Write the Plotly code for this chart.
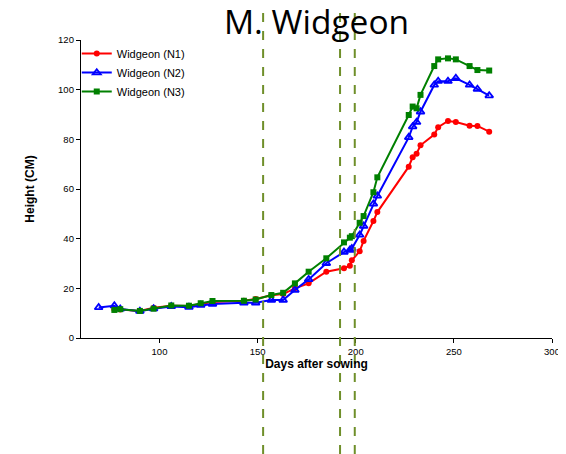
import plotly.graph_objects as go

days = [69, 77, 80, 90, 97, 106, 115, 121, 127, 143, 149, 157, 163, 169, 176, 185, 194, 197, 198, 202,
        204, 209, 211, 227, 229, 231, 233, 240, 242, 247, 251, 258, 262, 268]
n1 = [None, 11.5, 11.5, 10.9, 12.2, 13.0, 12.9, 13.7, 14.5, 15.0, 15.7, 17.2, 17.7, 20.0, 22.0, 26.7, 28.1, 29.1, 31.3, 34.9,
      39.1, 47.1, 50.7, 69.0, 72.8, 74.2, 77.6, 81.9, 84.9, 87.4, 87.0, 85.5, 85.4, 83.1]
n2 = [12.3, 13.0, 11.7, 10.8, 11.8, 12.7, 12.4, 13.2, 13.7, 14.2, 14.2, 15.3, 15.3, 19.3, 23.6, 30.1, 34.6, 35.4, 36.0, 41.5,
      45.1, 54.0, 57.2, 80.8, 85.1, 86.9, 91.1, 101.9, 103.4, 103.4, 104.6, 101.9, 100.2, 97.6]
n3 = [None, 11.3, 11.6, 10.9, 11.8, 13.1, 13.0, 14.0, 14.9, 15.0, 15.5, 17.3, 18.2, 22.0, 26.7, 32.1, 38.5, 40.4, 41.0, 46.4,
      49.1, 58.7, 64.7, 89.8, 93.2, 92.5, 97.9, 109.5, 112.2, 112.6, 112.2, 109.5, 107.9, 107.7]
event_days = [152.8, 192.0, 199.5]
x_range = [60, 300]
y_range = [0, 120]

series = [
    ("Widgeon (N1)", n1, "#ff0000", dict(symbol="circle", size=6)),
    ("Widgeon (N2)", n2, "#0000ff", dict(symbol="triangle-up-open", size=7, line=dict(width=1.8))),
    ("Widgeon (N3)", n3, "#008000", dict(symbol="square", size=6)),
]

fig = go.Figure()
for name, vals, col, mk in series:
    fig.add_trace(go.Scatter(x=days, y=vals, name=name, mode="lines+markers",
                             line=dict(color=col, width=2), marker=dict(color=col, **mk)))

# vertical event lines spanning the whole figure height (paper coords derived from the x range)
for d in event_days:
    xp = (d - x_range[0]) / (x_range[1] - x_range[0])
    fig.add_shape(type="line", xref="paper", yref="paper", x0=xp, x1=xp, y0=-0.45, y1=1.2,
                  line=dict(color="#6f8f2a", width=2, dash="dash"), layer="above")

# the page body adds an 8px margin, so the figure is 8px smaller than the window
fig.update_layout(
    width=558, height=446,
    margin=dict(l=73, r=14, t=32, b=116, autoexpand=False),
    plot_bgcolor="white", paper_bgcolor="white",
    font=dict(family="Liberation Sans, Arial", color="black"),
    title=dict(text="M. Widgeon", x=0.5, xref="paper", xanchor="center", y=0.969, yanchor="middle",
               automargin=False, font=dict(family="Open Sans", size=33.5, color="black")),
    xaxis=dict(range=x_range, tick0=0, dtick=50, showgrid=False, zeroline=False, automargin=False,
               showline=True, linecolor="black", linewidth=1.3, ticks="outside", ticklen=4,
               tickcolor="black", tickfont=dict(size=9.5), ticklabeloverflow="allow",
               title=dict(text="<b>Days after sowing</b>", font=dict(size=12), standoff=4)),
    yaxis=dict(range=y_range, dtick=20, showgrid=False, zeroline=False, automargin=False,
               showline=True, linecolor="black", linewidth=1.3, ticks="outside", ticklen=4,
               tickcolor="black", tickfont=dict(size=9.5),
               title=dict(text="<b>Height (CM)</b>", font=dict(size=12), standoff=20)),
    legend=dict(x=-0.009, y=1.003, xanchor="left", yanchor="top", bgcolor="rgba(0,0,0,0)",
                font=dict(size=11), itemwidth=30, tracegroupgap=0),
    showlegend=True,
)

fig.write_html("out.html")
